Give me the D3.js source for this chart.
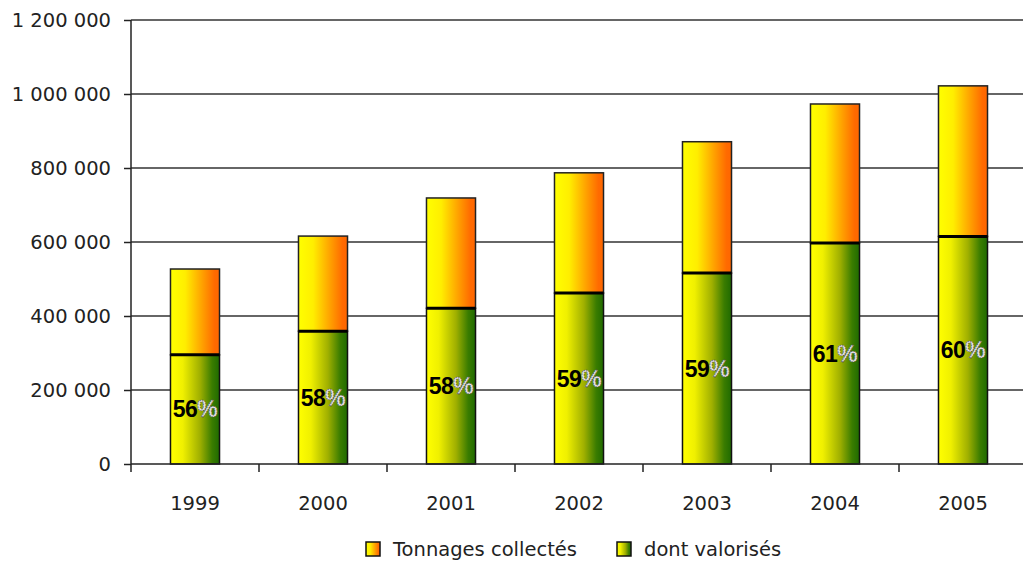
<!DOCTYPE html>
<html>
<head>
<meta charset="utf-8">
<script src="https://cdn.jsdelivr.net/npm/d3@7/dist/d3.min.js"></script>
<style>
  html, body { margin: 0; padding: 0; background: #fff; }
  svg { display: block; }
</style>
</head>
<body>
<svg id="chart" width="1023" height="565"></svg>
<script>
const years = ["1999", "2000", "2001", "2002", "2003", "2004", "2005"];
const collected = [527000, 616000, 719000, 787000, 871000, 973000, 1022000];
const valorised = [295000, 359000, 421000, 462000, 516000, 597000, 615000];
const percents = ["56", "58", "58", "59", "59", "61", "60"];
const yTicks = [0, 200000, 400000, 600000, 800000, 1000000, 1200000];
const seriesNames = ["Tonnages collectés", "dont valorisés"];

const svg = d3.select("#chart");
const margin = { left: 131, top: 20, right: -4, bottom: 101 };
const W = 1023, H = 565;
const x0 = margin.left, x1 = W - margin.right;
const yTop = margin.top, yBot = H - margin.bottom;

const x = d3.scaleBand().domain(years).range([x0, x1]).paddingInner(0.617).paddingOuter(0.3085);
const y = d3.scaleLinear().domain([0, 1200000]).range([yBot, yTop]);

const defs = svg.append("defs");
const gO = defs.append("linearGradient").attr("id", "gOrange").attr("x1", "0").attr("x2", "1").attr("y1", "0").attr("y2", "0");
gO.append("stop").attr("offset", "0").attr("stop-color", "#ffff00");
gO.append("stop").attr("offset", "0.3").attr("stop-color", "#ffee00");
gO.append("stop").attr("offset", "0.65").attr("stop-color", "#ffa000");
gO.append("stop").attr("offset", "0.9").attr("stop-color", "#ff6a00");
gO.append("stop").attr("offset", "1").attr("stop-color", "#ff6600");
const gG = defs.append("linearGradient").attr("id", "gGreen").attr("x1", "0").attr("x2", "1").attr("y1", "0").attr("y2", "0");
gG.append("stop").attr("offset", "0").attr("stop-color", "#ffff00");
gG.append("stop").attr("offset", "0.25").attr("stop-color", "#f0f000");
gG.append("stop").attr("offset", "0.6").attr("stop-color", "#a0b000");
gG.append("stop").attr("offset", "0.85").attr("stop-color", "#3a7c00");
gG.append("stop").attr("offset", "1").attr("stop-color", "#1f6a00");

const font = "'DejaVu Sans', Verdana, sans-serif";

// gridlines
svg.append("g").selectAll("line").data(yTicks.filter(d => d > 0)).join("line")
  .attr("x1", x0).attr("x2", W).attr("y1", d => y(d)).attr("y2", d => y(d))
  .attr("stroke", "#333").attr("stroke-width", 1.5);

// y axis
const yAxis = d3.axisLeft(y).tickValues(yTicks).tickSize(7).tickPadding(13)
  .tickFormat(d => d3.format(",")(d).replace(/,/g, " "));
const gy = svg.append("g").attr("transform", `translate(${x0},0)`).call(yAxis);
gy.select(".domain").remove();
gy.selectAll("line").attr("stroke", "#222").attr("stroke-width", 1.5);
gy.selectAll("text").attr("font-family", font).attr("font-size", "19.5px").attr("fill", "#222");
svg.append("line").attr("x1", x0).attr("x2", x0).attr("y1", yTop).attr("y2", yBot + 8)
  .attr("stroke", "#222").attr("stroke-width", 1.5);

// bars
const bars = svg.append("g").selectAll("g").data(years).join("g");
bars.append("rect")
  .attr("x", d => x(d)).attr("width", x.bandwidth())
  .attr("y", (d, i) => y(collected[i])).attr("height", (d, i) => y(valorised[i]) - y(collected[i]))
  .attr("fill", "url(#gOrange)").attr("stroke", "#222").attr("stroke-width", 1.5);
bars.append("rect")
  .attr("x", d => x(d)).attr("width", x.bandwidth())
  .attr("y", (d, i) => y(valorised[i])).attr("height", (d, i) => y(0) - y(valorised[i]))
  .attr("fill", "url(#gGreen)").attr("stroke", "#111").attr("stroke-width", 1.5);
bars.append("line")
  .attr("x1", d => x(d)).attr("x2", d => x(d) + x.bandwidth())
  .attr("y1", (d, i) => y(valorised[i])).attr("y2", (d, i) => y(valorised[i]))
  .attr("stroke", "#000").attr("stroke-width", 3);

// x axis
svg.append("line").attr("x1", x0).attr("x2", W).attr("y1", yBot).attr("y2", yBot)
  .attr("stroke", "#222").attr("stroke-width", 1.5);
const step = x.step();
svg.append("g").selectAll("line").data(years.slice(1)).join("line")
  .attr("x1", d => x(d) - step * x.paddingInner() / 2).attr("x2", d => x(d) - step * x.paddingInner() / 2)
  .attr("y1", yBot).attr("y2", yBot + 8).attr("stroke", "#222").attr("stroke-width", 1.5);
svg.append("g").selectAll("text").data(years).join("text")
  .attr("x", d => x(d) + x.bandwidth() / 2).attr("y", yBot + 46)
  .attr("text-anchor", "middle").attr("font-family", font).attr("font-size", "19.5px").attr("fill", "#222")
  .text(d => d);

// percent labels
const lbl = svg.append("g").selectAll("text").data(years).join("text")
  .attr("x", d => x(d) + x.bandwidth() / 2)
  .attr("y", (d, i) => (y(valorised[i]) + y(0)) / 2 + 8)
  .attr("text-anchor", "middle").attr("font-family", "'Liberation Sans', Arial, sans-serif")
  .attr("font-weight", "bold").attr("font-size", "23px").attr("letter-spacing", "-0.5px");
lbl.append("tspan").attr("fill", "#000").text((d, i) => percents[i]);
lbl.append("tspan").attr("fill", "#e4e4e4").attr("stroke", "#555").attr("stroke-width", 0.8)
  .attr("stroke-dasharray", "1.5 1").text("%");

// legend
const legend = svg.append("g");
const legItems = [
  { name: seriesNames[0], fill: "url(#gOrange)", x: 366 },
  { name: seriesNames[1], fill: "url(#gGreen)", x: 617 }
];
legItems.forEach(it => {
  legend.append("rect").attr("x", it.x).attr("y", 542).attr("width", 14).attr("height", 14)
    .attr("fill", it.fill).attr("stroke", "#111").attr("stroke-width", 1.5);
  legend.append("text").attr("x", it.x + 27).attr("y", 556)
    .attr("font-family", font).attr("font-size", "19.5px").attr("fill", "#222").text(it.name);
});
</script>
</body>
</html>
